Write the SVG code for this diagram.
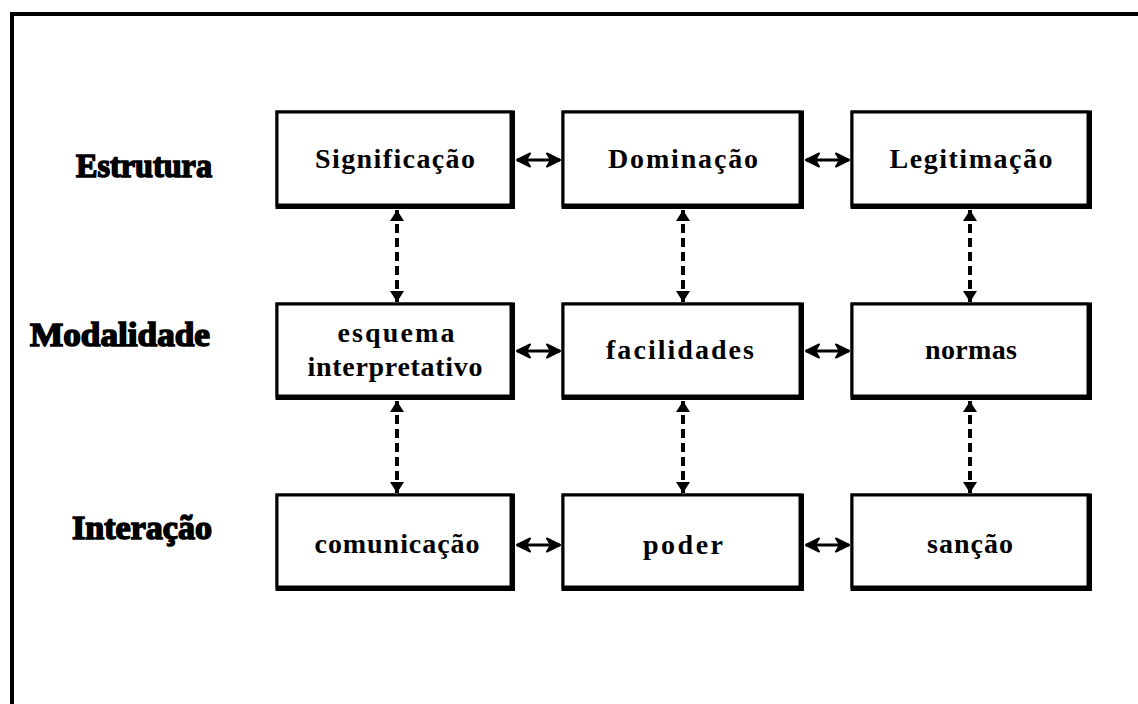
<svg xmlns="http://www.w3.org/2000/svg" width="1138" height="704" viewBox="0 0 1138 704">
<style>
.frame{fill:none;stroke:#000;stroke-width:4}
.shadow{fill:#000}
.box{fill:#fff;stroke:#000;stroke-width:3}
.t{font-family:"Liberation Serif","Times New Roman",serif;font-size:28px;font-weight:bold;fill:#000;text-anchor:middle}
.lab{font-family:"Liberation Serif","Times New Roman",serif;font-size:34px;font-weight:bold;fill:#000;stroke:#000;stroke-width:1.6;text-anchor:end}
.h{stroke:#000;stroke-width:3;fill:none;marker-start:url(#ah);marker-end:url(#ah)}
.v{stroke:#000;stroke-width:4;fill:none;stroke-dasharray:9 5;marker-start:url(#av);marker-end:url(#av)}
</style>
<defs>
<marker id="ah" markerUnits="userSpaceOnUse" markerWidth="16" markerHeight="16" refX="14" refY="8" orient="auto-start-reverse" viewBox="0 0 16 16">
<path d="M1,1.5 L14,8 L1,14.5 L5,8 z" fill="#000" stroke="#000" stroke-width="2" stroke-linejoin="round"/>
</marker>
<marker id="av" markerUnits="userSpaceOnUse" markerWidth="16" markerHeight="16" refX="11" refY="8" orient="auto-start-reverse" viewBox="0 0 16 16">
<path d="M0,1 L11,8 L0,15 z" fill="#000"/>
</marker>
</defs>
<rect width="1138" height="704" fill="#fff"/>
<rect class="frame" x="12" y="14" width="1200" height="760"/>

<g id="row-labels">
<text class="lab" x="212" y="177" textLength="136" lengthAdjust="spacingAndGlyphs">Estrutura</text>
<text class="lab" x="210" y="346" textLength="180" lengthAdjust="spacingAndGlyphs">Modalidade</text>
<text class="lab" x="212" y="539" textLength="140" lengthAdjust="spacingAndGlyphs">Interação</text>
</g>

<g id="connectors">
<line class="h" x1="517" y1="160" x2="560" y2="160"/>
<line class="h" x1="806" y1="160" x2="849" y2="160"/>
<line class="h" x1="517" y1="351" x2="560" y2="351"/>
<line class="h" x1="806" y1="351" x2="849" y2="351"/>
<line class="h" x1="517" y1="545" x2="560" y2="545"/>
<line class="h" x1="806" y1="545" x2="849" y2="545"/>
<line class="v" x1="397" y1="210" x2="397" y2="302"/>
<line class="v" x1="683" y1="210" x2="683" y2="302"/>
<line class="v" x1="970" y1="210" x2="970" y2="302"/>
<line class="v" x1="397" y1="401" x2="397" y2="493"/>
<line class="v" x1="683" y1="401" x2="683" y2="493"/>
<line class="v" x1="970" y1="401" x2="970" y2="493"/>
</g>

<g id="significacao">
<rect class="shadow" x="275.5" y="110.5" width="239.5" height="98.5"/>
<rect class="box" x="277" y="112" width="234" height="93"/>
<text class="t" x="395" y="168" textLength="160" lengthAdjust="spacing">Significação</text>
</g>
<g id="dominacao">
<rect class="shadow" x="561.5" y="110.5" width="242.5" height="98.5"/>
<rect class="box" x="563" y="112" width="237" height="93"/>
<text class="t" x="683" y="168" textLength="150" lengthAdjust="spacing">Dominação</text>
</g>
<g id="legitimacao">
<rect class="shadow" x="850.5" y="110.5" width="241.5" height="98.5"/>
<rect class="box" x="852" y="112" width="236" height="93"/>
<text class="t" x="971" y="168" textLength="163" lengthAdjust="spacing">Legitimação</text>
</g>

<g id="esquema">
<rect class="shadow" x="275.5" y="302.5" width="239.5" height="97.5"/>
<rect class="box" x="277" y="304" width="234" height="92"/>
<text class="t" x="396" y="342" textLength="117" lengthAdjust="spacing">esquema</text>
<text class="t" x="395" y="376" textLength="175" lengthAdjust="spacing">interpretativo</text>
</g>
<g id="facilidades">
<rect class="shadow" x="561.5" y="302.5" width="242.5" height="97.5"/>
<rect class="box" x="563" y="304" width="237" height="92"/>
<text class="t" x="680" y="359" textLength="148" lengthAdjust="spacing">facilidades</text>
</g>
<g id="normas">
<rect class="shadow" x="850.5" y="302.5" width="241.5" height="97.5"/>
<rect class="box" x="852" y="304" width="236" height="92"/>
<text class="t" x="971" y="359" textLength="92" lengthAdjust="spacing">normas</text>
</g>

<g id="comunicacao">
<rect class="shadow" x="275.5" y="493.5" width="239.5" height="97.5"/>
<rect class="box" x="277" y="495" width="234" height="92"/>
<text class="t" x="397" y="553" textLength="165" lengthAdjust="spacing">comunicação</text>
</g>
<g id="poder">
<rect class="shadow" x="561.5" y="493.5" width="242.5" height="97.5"/>
<rect class="box" x="563" y="495" width="237" height="92"/>
<text class="t" x="683" y="554" textLength="80" lengthAdjust="spacing">poder</text>
</g>
<g id="sancao">
<rect class="shadow" x="850.5" y="493.5" width="241.5" height="97.5"/>
<rect class="box" x="852" y="495" width="236" height="92"/>
<text class="t" x="970" y="553" textLength="86" lengthAdjust="spacing">sanção</text>
</g>
</svg>
